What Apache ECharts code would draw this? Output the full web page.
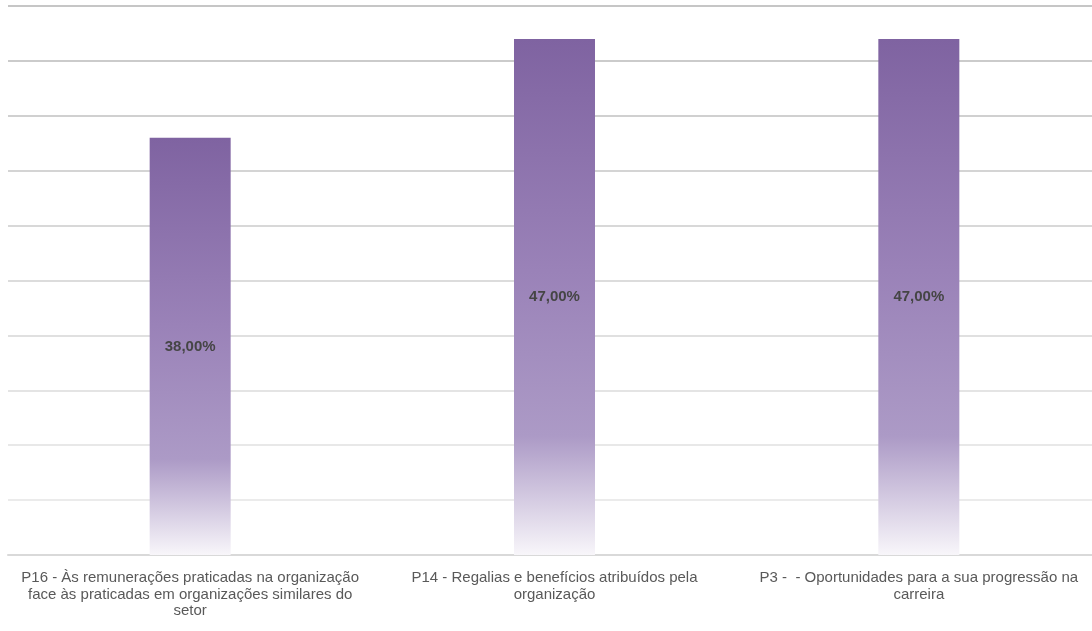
<!DOCTYPE html>
<html><head><meta charset="utf-8">
<script src="https://cdn.jsdelivr.net/npm/echarts@6/dist/echarts.min.js"></script>
<style>html,body{margin:0;padding:0;background:#fff;overflow:hidden}#c{width:1101px;height:631px}</style>
</head><body><div id="c"></div>
<script>
const categories = [
  "P16 - Às remunerações praticadas na organização\nface às praticadas em organizações similares do\nsetor",
  "P14 - Regalias e benefícios atribuídos pela\norganização",
  "P3 -  - Oportunidades para a sua progressão na\ncarreira"
];
const values = [0.38, 0.47, 0.47];

const chart = echarts.init(document.getElementById('c'), null, {renderer: 'canvas'});
const gridColors = ['#d9d9d9','#ebebeb','#e8e8e8','#e4e4e4','#e0e0e0','#dcdcdc','#d8d8d8','#d4d4d4','#d0d0d0','#cbcbcb','#c6c6c6'];
chart.setOption({
  animation: false,
  backgroundColor: '#ffffff',
  grid: {left: 8, top: 6, right: 0, bottom: 76, containLabel: false},
  xAxis: {
    type: 'category', data: categories,
    axisLine: {show: true, lineStyle: {color: '#d9d9d9', width: 2}},
    axisTick: {show: false},
    axisLabel: {
      interval: 0, margin: 15, color: '#595959',
      fontFamily: '"Liberation Sans", Arial, sans-serif',
      fontSize: 15, lineHeight: 16.5, align: 'center'
    }
  },
  yAxis: {
    type: 'value', min: 0, max: 0.5, interval: 0.05,
    axisLabel: {show: false}, axisLine: {show: false}, axisTick: {show: false},
    splitLine: {show: true, lineStyle: {color: gridColors, width: 2}}
  },
  series: [{
    type: 'bar', data: values, barWidth: 81,
    itemStyle: {
      color: new echarts.graphic.LinearGradient(0, 0, 0, 1, [
        {offset: 0, color: '#7f63a1'},
        {offset: 0.45, color: '#9a82b8'},
        {offset: 0.77, color: '#ac9ac6'},
        {offset: 1, color: '#f8f6fa'}
      ])
    },
    label: {
      show: true, position: 'inside',
      formatter: p => (p.value * 100).toFixed(2).replace('.', ',') + '%',
      color: '#454545', fontWeight: 'bold', fontSize: 15,
      fontFamily: '"Liberation Sans", Arial, sans-serif'
    }
  }]
});
</script></body></html>
